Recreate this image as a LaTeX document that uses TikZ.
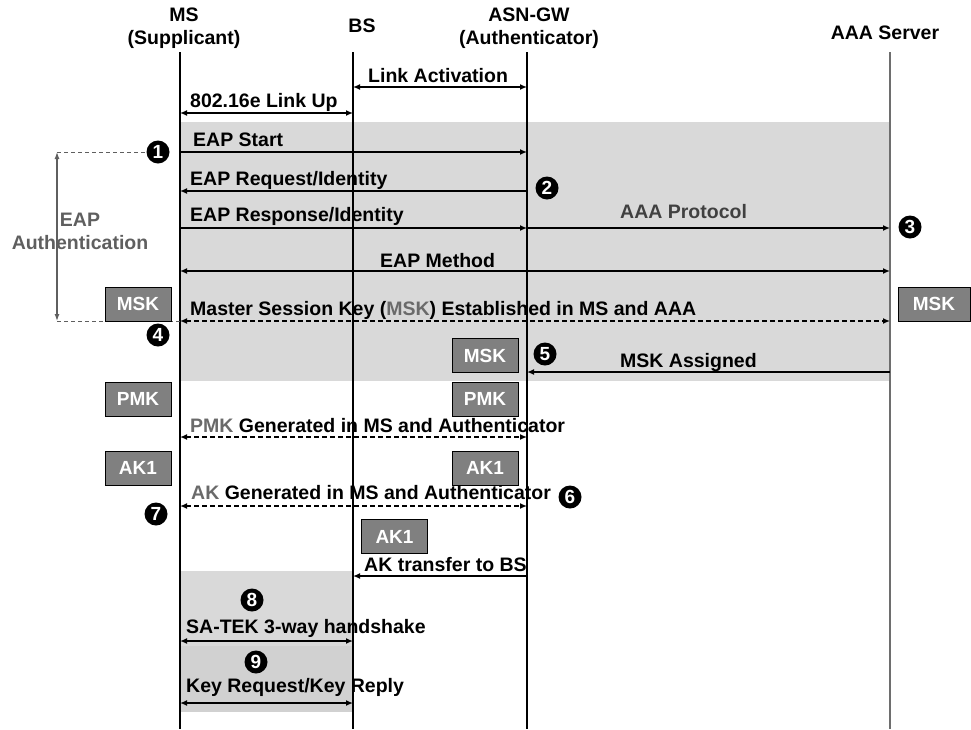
\documentclass[tikz,border=0pt]{standalone}
\usepackage{fontspec}
\setmainfont{Liberation Sans}
\usetikzlibrary{arrows.meta}

\definecolor{phasefill}{HTML}{D9D9D9}
\definecolor{phasefillb}{HTML}{D1D1D1}
\definecolor{keyfill}{HTML}{808080}
\definecolor{softtext}{HTML}{404040}
\definecolor{sidetext}{HTML}{5F5F5F}
\definecolor{keyword}{HTML}{6A6A6A}
\definecolor{aaaline}{HTML}{6E6E6E}

\tikzset{
  lbl/.style={font=\fontsize{19.5}{22}\selectfont\bfseries, inner sep=0pt, anchor=base west},
  head/.style={font=\fontsize{19.5}{23}\selectfont\bfseries, align=center, inner sep=0pt},
  life/.style={line width=1.2pt},
  tip/.tip={Latex[length=7pt,width=6pt]},
  msg/.style={line width=1.4pt, -tip},
  both/.style={line width=1.4pt, tip-tip},
  dmsg/.style={both, dash pattern=on 5pt off 3pt},
  keybox/.style={draw=black, line width=0.9pt, fill=keyfill, text=white,
    minimum width=66pt, minimum height=34pt, inner sep=0pt,
    font=\fontsize{19}{22}\selectfont\bfseries},
  badge/.style={circle, fill=black, text=white, minimum size=23pt, inner sep=0pt,
    font=\fontsize{19}{19}\selectfont\bfseries},
}

\begin{document}
\begin{tikzpicture}[x=1pt,y=-1pt]
\useasboundingbox (0,0) rectangle (971,729);

% shaded phases
\fill[phasefill] (180,122) rectangle (890,381);
\fill[phasefill] (180,571) rectangle (353,646);
\fill[phasefillb] (180,646) rectangle (353,712);

% lifeline heads and feet
\coordinate (ms)  at (180,52);  \coordinate (msf)  at (180,729);
\coordinate (bs)  at (353,52);  \coordinate (bsf)  at (353,729);
\coordinate (asn) at (527,52);  \coordinate (asnf) at (527,729);
\coordinate (aaa) at (890,52);  \coordinate (aaaf) at (890,729);

\draw[life] (ms) -- (msf);
\draw[life] (bs) -- (bsf);
\draw[life] (asn) -- (asnf);
\draw[life, aaaline] (aaa) -- (aaaf);

% column titles
\node[head] (hms)  at (184,28.5) {MS\\(Supplicant)};
\node[head] (hbs)  at (362,26)   {BS};
\node[head] (hasn) at (529,28.5) {ASN-GW\\(Authenticator)};
\node[head] (haaa) at (885,33)   {AAA Server};

% EAP authentication span
\node[badge] (b1) at (158,152) {1};
\node[badge] (b4) at (158,335) {4};
\coordinate (spantop) at (57,152);
\coordinate (spanbot) at (57,321);
\draw[sidetext, line width=1pt, dash pattern=on 4pt off 3pt] (spantop) -- (b1.west);
\draw[sidetext, line width=1pt, dash pattern=on 4pt off 3pt] (spanbot) -- (ms |- 0,321);
\draw[sidetext, line width=1.2pt, {Latex[length=7pt,width=5pt]}-{Latex[length=7pt,width=5pt]}] (spantop) -- (spanbot);
\node[head, text=sidetext] (eapauth) at (80,231) {EAP\\Authentication};

% messages
\draw[both] (bs |- 0,87) -- (asn |- 0,87);
\node[lbl] (t1) at (368,82) {Link Activation};

\draw[both] (ms |- 0,113) -- (bs |- 0,113);
\node[lbl] (t2) at (190,107) {802.16e Link Up};

\draw[msg] (ms |- 0,152) -- (asn |- 0,152);
\node[lbl] (t3) at (193,146) {EAP Start};

\draw[msg] (asn |- 0,191) -- (ms |- 0,191);
\node[lbl] (t4) at (190,185) {EAP Request/Identity};

\draw[msg] (ms |- 0,228) -- (asn |- 0,228);
\node[lbl] (t5) at (190,221) {EAP Response/Identity};
\draw[msg] (asn |- 0,228) -- (aaa |- 0,228);
\node[lbl, text=softtext] (t6) at (620,218) {AAA Protocol};

\draw[both] (ms |- 0,271) -- (aaa |- 0,271);
\node[lbl] (t7) at (380,267) {EAP Method};

\draw[dmsg] (ms |- 0,321) -- (aaa |- 0,321);
\node[lbl] (t8) at (190,315) {Master Session Key (\textcolor{keyword}{MSK}) Established in MS and AAA};

\draw[msg] (aaa |- 0,372) -- (asn |- 0,372);
\node[lbl] (t9) at (620,367) {MSK Assigned};

\draw[dmsg] (ms |- 0,437) -- (asn |- 0,437);
\node[lbl] (t10) at (190,432) {\textcolor{keyword}{PMK} Generated in MS and Authenticator};

\draw[dmsg] (ms |- 0,506) -- (asn |- 0,506);
\node[lbl] (t11) at (191,499) {\textcolor{keyword}{AK} Generated in MS and Authenticator};

\draw[msg] (asn |- 0,576) -- (bs |- 0,576);
\node[lbl] (t12) at (364,571) {AK transfer to BS};

\draw[both] (ms |- 0,641) -- (bs |- 0,641);
\node[lbl] (t13) at (186,633) {SA-TEK 3-way handshake};

\draw[both] (ms |- 0,703) -- (bs |- 0,703);
\node[lbl] (t14) at (186,692) {Key Request/Key Reply};

% keys
\node[keybox] (mskl) at (138,304) {MSK};
\node[keybox, minimum width=72pt] (mskr) at (934,304) {MSK};
\node[keybox] (mskm) at (485,355.5) {MSK};
\node[keybox] (pmkl) at (138,399) {PMK};
\node[keybox] (pmkr) at (485,399) {PMK};
\node[keybox] (akl)  at (138,468) {AK1};
\node[keybox] (akr)  at (485,468) {AK1};
\node[keybox] (akm)  at (394.5,536.5) {AK1};

% step markers
\node[badge] (b2) at (547,188) {2};
\node[badge] (b3) at (910,227) {3};
\node[badge] (b5) at (545,354) {5};
\node[badge] (b6) at (570,497) {6};
\node[badge] (b7) at (156,514) {7};
\node[badge] (b8) at (252,600) {8};
\node[badge] (b9) at (256,662) {9};
\end{tikzpicture}
\end{document}
